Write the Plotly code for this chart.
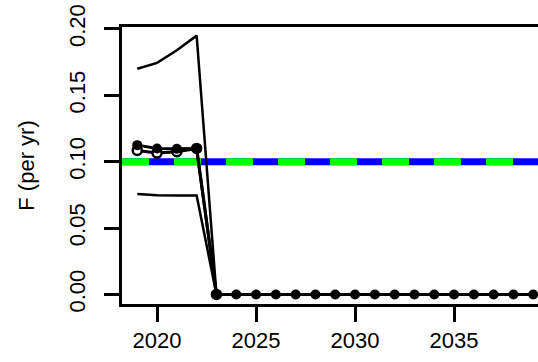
import plotly.graph_objects as go

years = list(range(2019, 2040))
hist_years = [2019, 2020, 2021, 2022, 2023]

f_upper = [0.170, 0.1745, 0.184, 0.195, 0.0]
f_lower = [0.0757, 0.0748, 0.0745, 0.0745, 0.0]
f_mid_open = [0.1085, 0.1065, 0.1075, 0.1100, 0.0]
f_mid_filled = [0.1125, 0.1100, 0.1098, 0.1100, 0.0, 0.0, 0.0, 0.0, 0.0, 0.0,
                0.0, 0.0, 0.0, 0.0, 0.0, 0.0, 0.0, 0.0, 0.0, 0.0, 0.0]
f_target = 0.10
f_limit = 0.10

y_ticks = [0.0, 0.05, 0.10, 0.15, 0.20]
x_ticks = [2020, 2025, 2030, 2035]

fig = go.Figure()

fig.add_trace(go.Scatter(x=hist_years, y=f_upper, mode="lines",
                         line=dict(color="black", width=2.5), showlegend=False))
fig.add_trace(go.Scatter(x=hist_years, y=f_lower, mode="lines",
                         line=dict(color="black", width=2.5), showlegend=False))
fig.add_trace(go.Scatter(x=hist_years, y=f_mid_open, mode="lines+markers",
                         line=dict(color="black", width=3),
                         marker=dict(symbol="circle", size=9, color="white",
                                     line=dict(color="black", width=2.5)),
                         showlegend=False))
fig.add_trace(go.Scatter(x=years, y=f_mid_filled, mode="lines+markers",
                         line=dict(color="black", width=3),
                         marker=dict(symbol="circle", size=10, color="black"),
                         showlegend=False))

fig.add_shape(type="line", xref="paper", x0=0, x1=1, yref="y", y0=f_target, y1=f_target,
              line=dict(color="#0000FF", width=7), layer="below")
fig.add_shape(type="line", xref="paper", x0=0, x1=1, yref="y", y0=f_limit, y1=f_limit,
              line=dict(color="#00FF00", width=7, dash="27px,25px"), layer="below")

font = dict(family="Liberation Sans, Arial, sans-serif", size=22, color="black")

fig.update_layout(
    width=538, height=362,
    margin=dict(l=122, r=0, t=27, b=58, autoexpand=False),
    paper_bgcolor="white", plot_bgcolor="white",
    font=font,
    showlegend=False,
    xaxis=dict(range=[2018.23, 2039.24], tickvals=x_ticks, ticktext=[str(v) for v in x_ticks],
               showgrid=False, zeroline=False, showline=True, mirror=True,
               linecolor="black", linewidth=3, ticks="outside", ticklen=15,
               tickwidth=2.5, tickcolor="black", ticklabelstandoff=0,
               tickfont=font, automargin=False),
    yaxis=dict(range=[-0.0072, 0.2015], tickvals=y_ticks,
               ticktext=[f"{v:.2f}" for v in y_ticks], tickangle=-90,
               showgrid=False, zeroline=False, showline=True, mirror=False,
               linecolor="black", linewidth=3, ticks="outside", ticklen=15,
               tickwidth=2.5, tickcolor="black", ticklabelstandoff=10,
               tickfont=font, automargin=False,
               title=dict(text="F (per yr)", standoff=25, font=font)),
)

fig.write_html("out.html", config={"displayModeBar": False},
               post_script="document.body.style.margin='0';document.body.style.padding='0';")
